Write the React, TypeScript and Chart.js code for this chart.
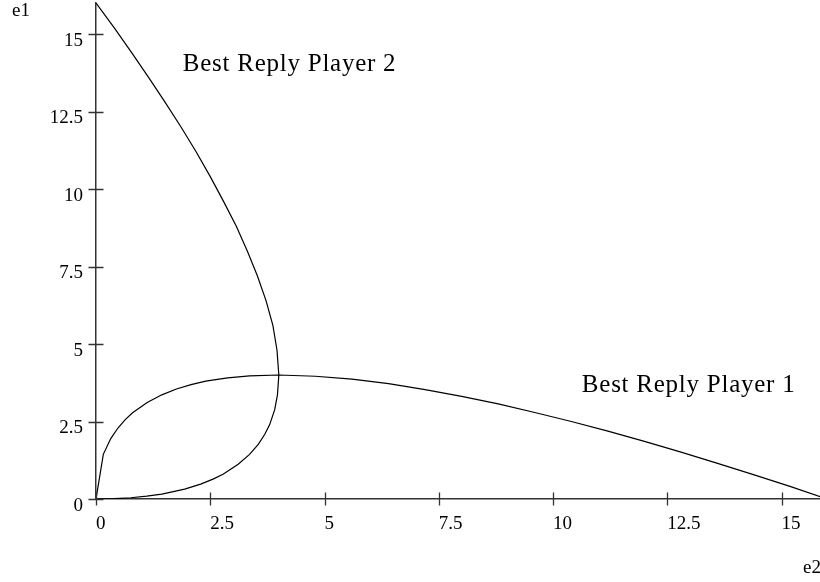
import { useEffect, useRef } from 'react';
import { Chart, registerables } from 'chart.js';

Chart.register(...registerables);

// Best reply of player 1: e1 as a function of e2
const p1E2 = [0, 0.16, 0.32, 0.48, 0.64, 0.8, 1.12, 1.44, 1.76, 2.08, 2.4, 2.88, 3.36, 4, 4.8, 5.6, 6.4, 7.2, 8, 8.8, 9.6, 10.4, 11.2, 12, 12.8, 13.6, 14.4, 15.2, 16];
const p1E1 = [0, 1.44, 1.94, 2.29, 2.56, 2.78, 3.11, 3.36, 3.55, 3.69, 3.8, 3.91, 3.97, 4, 3.96, 3.87, 3.72, 3.53, 3.31, 3.07, 2.79, 2.5, 2.19, 1.86, 1.51, 1.15, 0.78, 0.4, 0];

// Best reply of player 2: e2 as a function of e1
const p2E2 = [0, 0.39, 0.76, 1.11, 1.44, 1.94, 2.29, 2.56, 2.78, 3.11, 3.36, 3.55, 3.69, 3.8, 3.91, 3.97, 4, 3.96, 3.87, 3.72, 3.53, 3.31, 3.07, 2.79, 2.5, 2.19, 1.86, 1.51, 1.15, 0.78, 0.4, 0];
const p2E1 = [0, 0.01, 0.04, 0.09, 0.16, 0.32, 0.48, 0.64, 0.8, 1.12, 1.44, 1.76, 2.08, 2.4, 2.88, 3.36, 4, 4.8, 5.6, 6.4, 7.2, 8, 8.8, 9.6, 10.4, 11.2, 12, 12.8, 13.6, 14.4, 15.2, 16];

const xTicks = [0, 2.5, 5, 7.5, 10, 12.5, 15];
const xTickLabels = ['0', '2.5', '5', '7.5', '10', '12.5', '15'];
const yTicks = [0, 2.5, 5, 7.5, 10, 12.5, 15];
const yTickLabels = ['0', '2.5', '5', '7.5', '10', '12.5', '15'];

const seriesNames = ['Best Reply Player 1', 'Best Reply Player 2'];
const axisNames = { x: 'e2', y: 'e1' };

const FONT = '"Liberation Serif", "Times New Roman", serif';

export default function App() {
  const ref = useRef<HTMLCanvasElement | null>(null);

  useEffect(() => {
    document.body.style.margin = '0';
    const canvas = ref.current;
    if (!canvas) return;

    const toPts = (xs: number[], ys: number[]) => xs.map((x, i) => ({ x, y: ys[i] }));

    const annotations = [
      { text: seriesNames[1], x: 1.9, y: 13.82 },
      { text: seriesNames[0], x: 10.63, y: 3.45 },
    ];

    const decorPlugin = {
      id: 'decor',
      afterDraw(chart: any) {
        const { ctx, chartArea } = chart;
        const xs = chart.scales.x;
        const ys = chart.scales.y;
        ctx.save();
        // tick marks crossing the axes
        ctx.strokeStyle = '#333';
        ctx.lineWidth = 1.3;
        ctx.beginPath();
        xTicks.forEach((v) => {
          const px = Math.round(xs.getPixelForValue(v)) + 0.5;
          ctx.moveTo(px, chartArea.bottom - 6.5);
          ctx.lineTo(px, chartArea.bottom + 6.5);
        });
        yTicks.forEach((v) => {
          const py = Math.round(ys.getPixelForValue(v)) + 0.5;
          ctx.moveTo(chartArea.left - 7.5, py);
          ctx.lineTo(chartArea.left + 7.5, py);
        });
        ctx.stroke();
        // curve labels
        ctx.fillStyle = '#000';
        ctx.textBaseline = 'alphabetic';
        ctx.textAlign = 'left';
        ctx.font = `25px ${FONT}`;
        try { (ctx as any).letterSpacing = '0.75px'; } catch (e) { /* ignore */ }
        annotations.forEach((a) => {
          ctx.fillText(a.text, xs.getPixelForValue(a.x), ys.getPixelForValue(a.y));
        });
        try { (ctx as any).letterSpacing = '0px'; } catch (e) { /* ignore */ }
        // axis names
        ctx.font = `19px ${FONT}`;
        ctx.fillText(axisNames.y, 12, 16);
        ctx.fillText(axisNames.x, 803, 573);
        ctx.restore();
      },
    };

    const chart = new Chart(canvas, {
      type: 'scatter',
      data: {
        datasets: [
          {
            label: seriesNames[0],
            data: toPts(p1E2, p1E1),
            showLine: true,
            borderColor: '#000',
            borderWidth: 1.2,
            pointRadius: 0,
            tension: 0,
          },
          {
            label: seriesNames[1],
            data: toPts(p2E2, p2E1),
            showLine: true,
            borderColor: '#000',
            borderWidth: 1.2,
            pointRadius: 0,
            tension: 0,
          },
        ],
      },
      options: {
        responsive: false,
        animation: false,
        devicePixelRatio: 1,
        layout: { padding: { top: 3, right: 0, left: 0, bottom: 0 } },
        plugins: { legend: { display: false }, tooltip: { enabled: false } },
        scales: {
          x: {
            type: 'linear',
            min: 0,
            max: 15.84,
            grid: { display: false, drawTicks: false },
            border: { display: true, color: '#333', width: 1.5 },
            afterBuildTicks: (scale: any) => {
              scale.ticks = xTicks.map((v) => ({ value: v }));
            },
            afterFit: (scale: any) => {
              scale.height = 83;
              scale.paddingLeft = 0;
              scale.paddingRight = 0;
            },
            ticks: {
              align: 'start',
              padding: 14,
              color: '#000',
              maxRotation: 0,
              autoSkip: false,
              font: { family: FONT, size: 19 },
              callback: (_v: any, i: number) => xTickLabels[i],
            },
          },
          y: {
            type: 'linear',
            min: 0,
            max: 16,
            grid: { display: false, drawTicks: false },
            border: { display: true, color: '#333', width: 1.5 },
            afterBuildTicks: (scale: any) => {
              scale.ticks = yTicks.map((v) => ({ value: v }));
            },
            afterFit: (scale: any) => {
              scale.width = 96;
              scale.paddingTop = 0;
              scale.paddingBottom = 0;
            },
            ticks: {
              padding: 13,
              labelOffset: 7,
              color: '#000',
              autoSkip: false,
              font: { family: FONT, size: 19 },
              callback: (_v: any, i: number) => yTickLabels[i],
            },
          },
        },
      },
      plugins: [decorPlugin],
    });

    return () => chart.destroy();
  }, []);

  return <canvas ref={ref} width={820} height={582} style={{ display: 'block' }} />;
}
